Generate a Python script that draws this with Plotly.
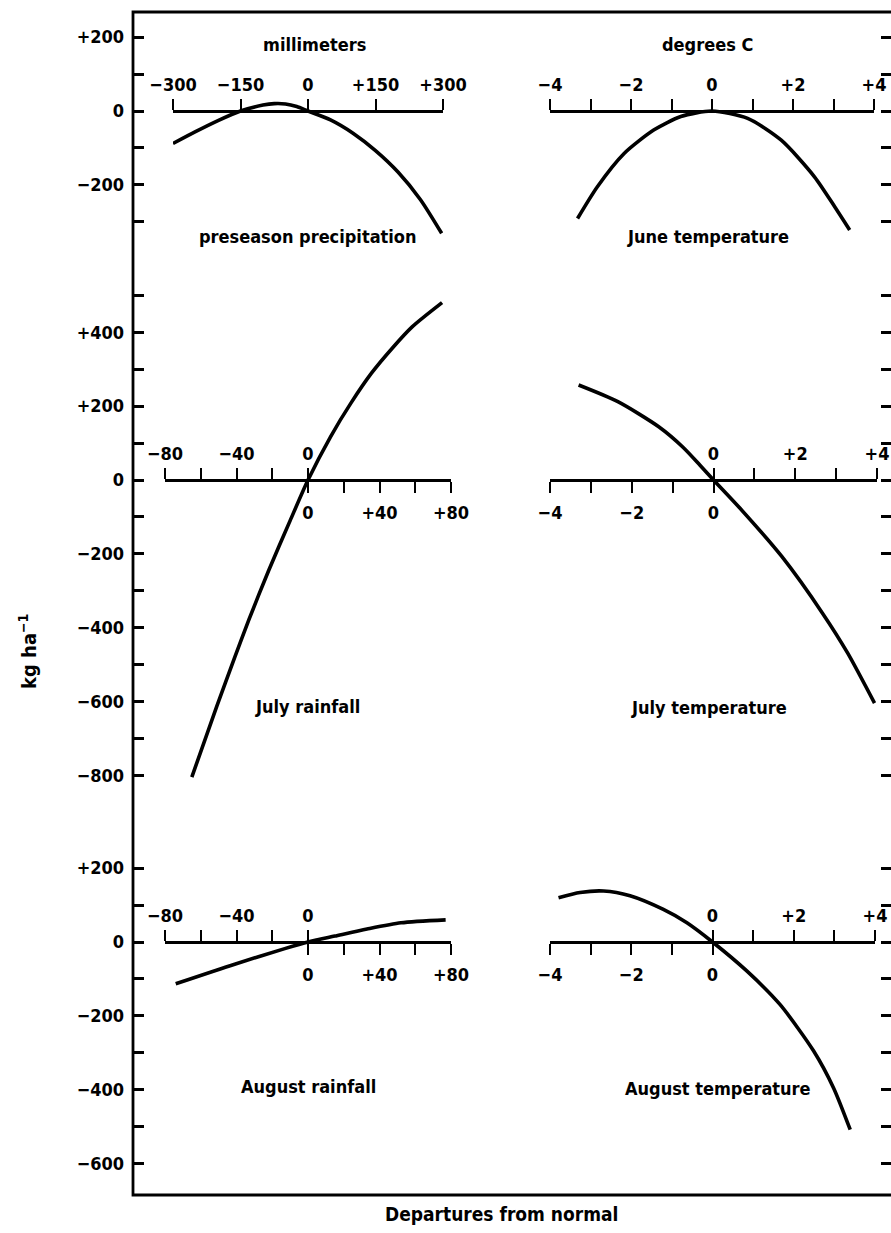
import plotly.graph_objects as go

# ---------------- data ----------------
pre_x = [-300, -250, -200, -150, -100, -75, -50, -25, 0, 50, 100, 150, 200, 250, 297]
pre_y = [-88, -56, -26, 0, 16, 20, 19, 12, 0, -24, -60, -107, -165, -240, -331]

junT_x = [-3.32, -2.83, -2.17, -1.43, -0.77, 0.0, 0.88, 1.71, 2.53, 3.03, 3.40]
junT_y = [-291, -205, -115, -51, -15, 0, -20, -79, -178, -259, -322]

julR_x = [-65, -51, -41, -33, -22, -10, 0, 12.6, 24, 35.5, 47, 58.4, 75]
julR_y = [-804, -612, -480, -377, -245, -110, 0, 117, 208, 289, 356, 415, 480]

julT_x = [-3.30, -2.34, -1.34, -0.74, -0.33, 0.0, 0.66, 1.67, 2.67, 3.28, 3.94]
julT_y = [257, 212, 144, 88, 40, 0, -78, -207, -361, -468, -604]

augR_x = [-74, -41, -13, 0, 15, 33, 52, 77]
augR_y = [-113, -60, -18, 0, 16, 35, 52, 60]

augT_x = [-3.79, -3.26, -2.68, -2.03, -1.21, -0.63, 0.0, 0.85, 1.66, 2.49, 2.98, 3.39]
augT_y = [120, 134, 138, 125, 88, 52, 0, -79, -169, -295, -395, -508]

panel_names = ["preseason precipitation", "June temperature", "July rainfall",
               "July temperature", "August rainfall", "August temperature"]

# tick values / labels ("" = unlabelled tick)
mm_ticks = [-300, -150, 0, 150, 300]
mm_labels = ["\u2212300", "\u2212150", "0", "+150", "+300"]
deg_ticks_all = [-4, -3, -2, -1, 0, 1, 2, 3, 4]
deg_labels_all = ["\u22124", "", "\u22122", "", "0", "", "+2", "", "+4"]
deg_neg_ticks = [-4, -3, -2, -1, 0]
deg_neg_labels = ["\u22124", "", "\u22122", "", "0"]
deg_pos_ticks = [0, 1, 2, 3, 4]
deg_pos_labels = ["0", "", "+2", "", "+4"]
rain_neg_ticks = [-80, -60, -40, -20, 0]
rain_neg_labels = ["\u221280", "", "\u221240", "", "0"]
rain_pos_ticks = [0, 20, 40, 60, 80]
rain_pos_labels = ["0", "", "+40", "", "+80"]

y_top_ticks = [200, 100, 0, -100, -200, -300]
y_top_labels = ["+200", "", "0", "", "\u2212200", ""]
y_mid_ticks = [500, 400, 300, 200, 100, 0, -100, -200, -300, -400, -500, -600, -700, -800]
y_mid_labels = ["", "+400", "", "+200", "", "0", "", "\u2212200", "", "\u2212400", "",
                "\u2212600", "", "\u2212800"]
y_bot_ticks = [200, 100, 0, -100, -200, -300, -400, -500, -600]
y_bot_labels = ["+200", "", "0", "", "\u2212200", "", "\u2212400", "", "\u2212600"]

# ---------------- geometry ----------------
W, H = 891, 1233
S = 0.3695  # px per kg/ha
FONT = "DejaVu Sans Condensed, Liberation Sans Narrow, Arial Narrow, sans-serif"
TICKFONT = dict(family=FONT, size=18, color="black", weight="bold")


def fx(px):
    return px / W


def fy(py):
    return 1 - py / H


bands = {"top": (12, 258, 111), "mid": (258, 822, 480), "bot": (822, 1195, 942)}


def yband(name):
    t, b, z = bands[name]
    return [fy(b), fy(t)], [-(b - z) / S, (z - t) / S], fy(z)


def split_ticks(vals, labels):
    major = [v for v, l in zip(vals, labels) if l]
    major_t = [l for l in labels if l]
    minor = [v for v, l in zip(vals, labels) if not l]
    return major, major_t, minor


fig = go.Figure()
line = dict(color="black", width=3.6, shape="spline", smoothing=0.7)
series = [(pre_x, pre_y, "x", "y"), (junT_x, junT_y, "x2", "y2"),
          (julR_x, julR_y, "x3", "y3"), (julT_x, julT_y, "x4", "y4"),
          (augR_x, augR_y, "x5", "y5"), (augT_x, augT_y, "x6", "y6")]
for xs, ys, xa, ya in series:
    fig.add_trace(go.Scatter(x=xs, y=ys, mode="lines", line=line, xaxis=xa, yaxis=ya,
                             hoverinfo="skip", showlegend=False))
# empty traces to register overlay axes
for xa, ya in [("x7", "y3"), ("x8", "y4"), ("x9", "y5"), ("x10", "y6")]:
    fig.add_trace(go.Scatter(x=[], y=[], mode="lines", xaxis=xa, yaxis=ya,
                             hoverinfo="skip", showlegend=False))

common_x = dict(anchor="free", showline=True, linecolor="black", linewidth=2.5,
                ticks="outside", ticklen=11, tickwidth=2.2, tickcolor="black",
                showgrid=False, zeroline=False, tickfont=TICKFONT, tickmode="array",
                automargin=False, ticklabeloverflow="allow")
common_y = dict(anchor="free", showline=False, ticks="inside", ticklen=10, tickwidth=2.5,
                tickcolor="black", showgrid=False, zeroline=False, tickfont=TICKFONT,
                tickmode="array", automargin=False)

lay = {}
xspecs = {
    # name: (px0, px1, range, band, side, ticks, labels, overlay)
    "xaxis": (173, 443, [-300, 300], "top", "top", mm_ticks, mm_labels, None),
    "xaxis2": (550, 874, [-4, 4], "top", "top", deg_ticks_all, deg_labels_all, None),
    "xaxis3": (165, 451, [-80, 80], "mid", "top", rain_neg_ticks, rain_neg_labels, None),
    "xaxis7": (165, 451, [-80, 80], "mid", "bottom", rain_pos_ticks, rain_pos_labels, "x3"),
    "xaxis4": (550, 877, [-4, 4], "mid", "bottom", deg_neg_ticks, deg_neg_labels, None),
    "xaxis8": (550, 877, [-4, 4], "mid", "top", deg_pos_ticks, deg_pos_labels, "x4"),
    "xaxis5": (165, 451, [-80, 80], "bot", "top", rain_neg_ticks, rain_neg_labels, None),
    "xaxis9": (165, 451, [-80, 80], "bot", "bottom", rain_pos_ticks, rain_pos_labels, "x5"),
    "xaxis6": (550, 875, [-4, 4], "bot", "bottom", deg_neg_ticks, deg_neg_labels, None),
    "xaxis10": (550, 875, [-4, 4], "bot", "top", deg_pos_ticks, deg_pos_labels, "x6"),
}
for name, (p0, p1, rng, bnd, side, tv, tt, ov) in xspecs.items():
    major, major_t, minor = split_ticks(tv, tt)
    d = dict(common_x)
    d.update(domain=[fx(p0), fx(p1)], range=rng, position=yband(bnd)[2], side=side,
             tickvals=major, ticktext=major_t,
             ticklabelstandoff=1 if side == "top" else 5,
             minor=dict(tickmode="array", tickvals=minor, ticks="outside", ticklen=11,
                        tickwidth=2.2, tickcolor="black", showgrid=False))
    if ov:
        d["overlaying"] = ov
    lay[name] = d

yspecs = {
    "yaxis": ("top", "left", y_top_ticks, y_top_labels),
    "yaxis2": ("top", "right", y_top_ticks, y_top_labels),
    "yaxis3": ("mid", "left", y_mid_ticks, y_mid_labels),
    "yaxis4": ("mid", "right", y_mid_ticks, y_mid_labels),
    "yaxis5": ("bot", "left", y_bot_ticks, y_bot_labels),
    "yaxis6": ("bot", "right", y_bot_ticks, y_bot_labels),
}
for name, (bnd, side, tv, tt) in yspecs.items():
    dom, rng, _ = yband(bnd)
    major, major_t, minor = split_ticks(tv, tt)
    d = dict(common_y)
    d.update(domain=dom, range=rng, side=side, tickvals=major, ticktext=major_t,
             position=fx(133) if side == "left" else 1.0,
             showticklabels=(side == "left"), ticklabelstandoff=9,
             minor=dict(tickmode="array", tickvals=minor, ticks="inside", ticklen=10,
                        tickwidth=2.5, tickcolor="black", showgrid=False))
    lay[name] = d

fig.update_layout(**lay)

annots = [
    ("millimeters", 314, 45, 0, 18),
    ("degrees C", 707, 45, 0, 18),
    (panel_names[0], 308, 237, 0, 18),
    (panel_names[1], 708, 237, 0, 18),
    (panel_names[2], 307, 706, 0, 18),
    (panel_names[3], 709, 707, 0, 18),
    (panel_names[4], 308, 1086, 0, 18),
    (panel_names[5], 718, 1088, 0, 18),
    ("Departures from normal", 501, 1214, 0, 19),
    ("kg ha<sup>\u22121</sup>", 28, 652, -90, 20),
]
fig.update_layout(annotations=[
    dict(text=t, x=fx(px), y=fy(py), xref="paper", yref="paper", showarrow=False,
         xanchor="center", yanchor="middle", textangle=ang,
         font=dict(family=FONT, size=sz, color="black", weight="bold"))
    for t, px, py, ang, sz in annots
])

fig.add_shape(type="rect", xref="paper", yref="paper", x0=fx(133), x1=fx(897),
              y0=fy(1195), y1=fy(12), line=dict(color="black", width=2.8))

fig.update_layout(width=W, height=H, margin=dict(l=0, r=0, t=0, b=0, autoexpand=False),
                  plot_bgcolor="white", paper_bgcolor="white", showlegend=False)

fig.write_html("out.html", config={"displayModeBar": False},
               post_script="document.body.style.margin='0';")
